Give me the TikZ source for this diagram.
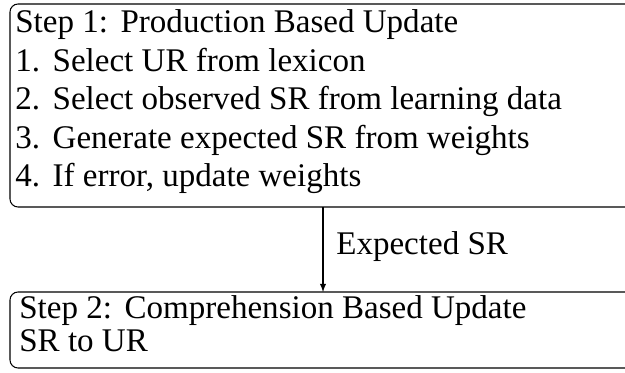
\documentclass[tikz,border=0pt]{standalone}
\usepackage{fontspec}
\setmainfont{Liberation Serif}
\usepackage{tikz}
\tikzstyle{none}=[inner sep=0pt]
\tikzstyle{line}=[anchor=base west,inner sep=0pt]
\tikzstyle{arrow}=[-latex,draw=black,line width=0.6]
\tikzstyle{box}=[-,draw=black,line width=0.6,rounded corners=0.16cm]

\begin{document}
\begin{tikzpicture}[font=\fontsize{18.8}{22}\selectfont]
  \useasboundingbox (0,0) rectangle (12.5,-7.46);
  \clip (0,0) rectangle (12.5,-7.46);
  \node [style=none] (0) at (0.2, -0.08) {};
  \node [style=none] (1) at (14, -4.14) {};
  \node [style=line] (2) at (0.3, -0.66) {Step 1:\hspace{0.38em}Production Based Update};
  \node [style=line] (3) at (0.3, -1.43) {1.\hspace{0.38em}Select UR from lexicon};
  \node [style=line] (4) at (0.3, -2.2) {2.\hspace{0.38em}Select observed SR from learning data};
  \node [style=line] (5) at (0.3, -2.97) {3.\hspace{0.38em}Generate expected SR from weights};
  \node [style=line] (6) at (0.3, -3.74) {4.\hspace{0.38em}If error, update weights};
  \node [style=none] (7) at (6.46, -4.14) {};
  \node [style=none] (8) at (6.46, -5.84) {};
  \node [style=line] (9) at (6.72, -5.1) {Expected SR};
  \node [style=none] (10) at (0.2, -5.84) {};
  \node [style=none] (11) at (14, -7.36) {};
  \node [style=line] (12) at (0.38, -6.38) {Step 2:\hspace{0.38em}Comprehension Based Update};
  \node [style=line] (13) at (0.38, -7.04) {SR to UR};
  \draw [style=box] (0.center) rectangle (1.center);
  \draw [style=box] (10.center) rectangle (11.center);
  \draw [style=arrow] (7.center) to (8.center);
\end{tikzpicture}
\end{document}
